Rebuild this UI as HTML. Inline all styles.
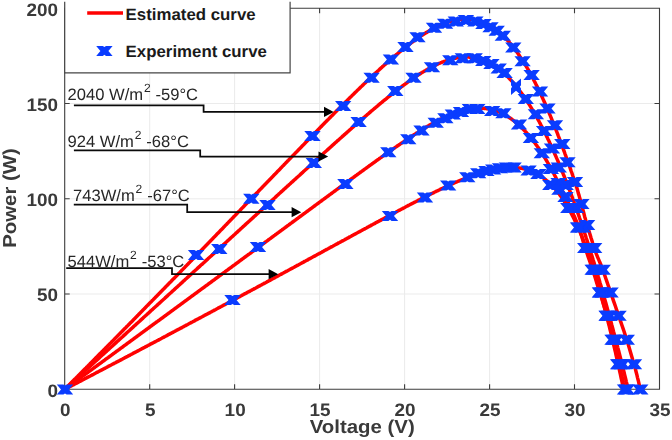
<!DOCTYPE html>
<html><head><meta charset="utf-8"><title>PV curves</title>
<style>html,body{margin:0;padding:0;background:#fff}body{width:672px;height:440px;overflow:hidden}svg{display:block}text{font-family:"Liberation Sans",sans-serif;text-rendering:geometricPrecision}svg{opacity:0.999}.tk{font-weight:bold;font-size:18px;fill:#3a3a3a}.lb{font-weight:bold;font-size:18.8px;fill:#3a3a3a}.lg{font-weight:bold;font-size:16.5px;fill:#1a1a1a}.an{font-size:16.5px;fill:#262626}</style></head><body>
<svg width="672" height="440" viewBox="0 0 672 440">
<path d="M149.7 8.2V389.3M234.6 8.2V389.3M319.6 8.2V389.3M404.6 8.2V389.3M489.6 8.2V389.3M574.5 8.2V389.3M64.7 294.0H659.5M64.7 198.8H659.5M64.7 103.5H659.5" stroke="#ebebeb" stroke-width="1" fill="none"/>
<path d="M64.7 8.2H659.5V389.3H64.7ZM64.7 389.3v-5M64.7 8.2v5M149.7 389.3v-5M149.7 8.2v5M234.6 389.3v-5M234.6 8.2v5M319.6 389.3v-5M319.6 8.2v5M404.6 389.3v-5M404.6 8.2v5M489.6 389.3v-5M489.6 8.2v5M574.5 389.3v-5M574.5 8.2v5M659.5 389.3v-5M659.5 8.2v5M64.7 389.3h5M659.5 389.3h-5M64.7 294.0h5M659.5 294.0h-5M64.7 198.8h5M659.5 198.8h-5M64.7 103.5h5M659.5 103.5h-5M64.7 8.2h5M659.5 8.2h-5" stroke="#3c3c3c" stroke-width="1.1" fill="none"/>
<path d="M64.7 389.3 65.6 388.4 66.4 387.6 67.3 386.7 68.1 385.9 69.0 385.0 69.8 384.2 70.7 383.3 71.5 382.5 72.4 381.6 73.2 380.7 74.1 379.9 74.9 379.0 75.8 378.2 76.6 377.3 77.5 376.5 78.3 375.6 79.2 374.8 80.0 373.9 80.9 373.0 81.7 372.2 82.6 371.3 83.4 370.5 84.3 369.6 85.1 368.8 86.0 367.9 86.8 367.0 87.7 366.2 88.5 365.3 89.4 364.5 90.2 363.6 91.1 362.7 91.9 361.9 92.8 361.0 93.6 360.2 94.5 359.3 95.3 358.4 96.2 357.6 97.0 356.7 97.9 355.9 98.7 355.0 99.6 354.1 100.4 353.3 101.3 352.4 102.1 351.6 103.0 350.7 103.8 349.8 104.7 349.0 105.5 348.1 106.4 347.3 107.2 346.4 108.1 345.5 108.9 344.7 109.8 343.8 110.7 343.0 111.5 342.1 112.4 341.2 113.2 340.4 114.1 339.5 114.9 338.6 115.8 337.8 116.6 336.9 117.5 336.0 118.3 335.2 119.2 334.3 120.0 333.5 120.9 332.6 121.7 331.7 122.6 330.9 123.4 330.0 124.3 329.1 125.1 328.3 126.0 327.4 126.8 326.5 127.7 325.7 128.5 324.8 129.4 323.9 130.2 323.1 131.1 322.2 131.9 321.4 132.8 320.5 133.6 319.6 134.5 318.8 135.3 317.9 136.2 317.0 137.0 316.2 137.9 315.3 138.7 314.4 139.6 313.6 140.4 312.7 141.3 311.8 142.1 311.0 143.0 310.1 143.8 309.2 144.7 308.4 145.5 307.5 146.4 306.6 147.2 305.7 148.1 304.9 148.9 304.0 149.8 303.1 150.6 302.3 151.5 301.4 152.3 300.5 153.2 299.7 154.0 298.8 154.9 297.9 155.7 297.1 156.6 296.2 157.5 295.3 158.3 294.5 159.2 293.6 160.0 292.7 160.9 291.8 161.7 291.0 162.6 290.1 163.4 289.2 164.3 288.4 165.1 287.5 166.0 286.6 166.8 285.7 167.7 284.9 168.5 284.0 169.4 283.1 170.2 282.3 171.1 281.4 171.9 280.5 172.8 279.6 173.6 278.8 174.5 277.9 175.3 277.0 176.2 276.2 177.0 275.3 177.9 274.4 178.7 273.5 179.6 272.7 180.4 271.8 181.3 270.9 182.1 270.0 183.0 269.2 183.8 268.3 184.7 267.4 185.5 266.5 186.4 265.7 187.2 264.8 188.1 263.9 188.9 263.1 189.8 262.2 190.6 261.3 191.5 260.4 192.3 259.6 193.2 258.7 194.0 257.8 194.9 256.9 195.7 256.1 196.6 255.2 197.4 254.3 198.3 253.4 199.1 252.5 200.0 251.7 200.8 250.8 201.7 249.9 202.6 249.0 203.4 248.2 204.3 247.3 205.1 246.4 206.0 245.5 206.8 244.7 207.7 243.8 208.5 242.9 209.4 242.0 210.2 241.2 211.1 240.3 211.9 239.4 212.8 238.5 213.6 237.6 214.5 236.8 215.3 235.9 216.2 235.0 217.0 234.1 217.9 233.2 218.7 232.4 219.6 231.5 220.4 230.6 221.3 229.7 222.1 228.9 223.0 228.0 223.8 227.1 224.7 226.2 225.5 225.3 226.4 224.5 227.2 223.6 228.1 222.7 228.9 221.8 229.8 220.9 230.6 220.1 231.5 219.2 232.3 218.3 233.2 217.4 234.0 216.5 234.9 215.7 235.7 214.8 236.6 213.9 237.4 213.0 238.3 212.1 239.1 211.3 240.0 210.4 240.8 209.5 241.7 208.6 242.5 207.7 243.4 206.9 244.2 206.0 245.1 205.1 245.9 204.2 246.8 203.3 247.6 202.5 248.5 201.6 249.4 200.7 250.2 199.8 251.1 198.9 251.9 198.1 252.8 197.2 253.6 196.3 254.5 195.4 255.3 194.5 256.2 193.6 257.0 192.8 257.9 191.9 258.7 191.0 259.6 190.1 260.4 189.2 261.3 188.4 262.1 187.5 263.0 186.6 263.8 185.7 264.7 184.8 265.5 184.0 266.4 183.1 267.2 182.2 268.1 181.3 268.9 180.4 269.8 179.5 270.6 178.7 271.5 177.8 272.3 176.9 273.2 176.0 274.0 175.1 274.9 174.3 275.7 173.4 276.6 172.5 277.4 171.6 278.3 170.7 279.1 169.9 280.0 169.0 280.8 168.1 281.7 167.2 282.5 166.3 283.4 165.5 284.2 164.6 285.1 163.7 285.9 162.8 286.8 161.9 287.6 161.1 288.5 160.2 289.3 159.3 290.2 158.4 291.0 157.5 291.9 156.7 292.7 155.8 293.6 154.9 294.5 154.0 295.3 153.1 296.2 152.3 297.0 151.4 297.9 150.5 298.7 149.6 299.6 148.8 300.4 147.9 301.3 147.0 302.1 146.1 303.0 145.3 303.8 144.4 304.7 143.5 305.5 142.6 306.4 141.8 307.2 140.9 308.1 140.0 308.9 139.1 309.8 138.3 310.6 137.4 311.5 136.5 312.3 135.6 313.2 134.8 314.0 133.9 314.9 133.0 315.7 132.2 316.6 131.3 317.4 130.4 318.3 129.5 319.1 128.7 320.0 127.8 320.8 126.9 321.7 126.1 322.5 125.2 323.4 124.3 324.2 123.5 325.1 122.6 325.9 121.7 326.8 120.9 327.6 120.0 328.5 119.2 329.3 118.3 330.2 117.4 331.0 116.6 331.9 115.7 332.7 114.9 333.6 114.0 334.4 113.1 335.3 112.3 336.1 111.4 337.0 110.6 337.8 109.7 338.7 108.9 339.6 108.0 340.4 107.2 341.3 106.3 342.1 105.5 343.0 104.6 343.8 103.8 344.7 102.9 345.5 102.1 346.4 101.2 347.2 100.4 348.1 99.5 348.9 98.7 349.8 97.8 350.6 97.0 351.5 96.2 352.3 95.3 353.2 94.5 354.0 93.7 354.9 92.8 355.7 92.0 356.6 91.2 357.4 90.3 358.3 89.5 359.1 88.7 360.0 87.9 360.8 87.0 361.7 86.2 362.5 85.4 363.4 84.6 364.2 83.8 365.1 83.0 365.9 82.1 366.8 81.3 367.6 80.5 368.5 79.7 369.3 78.9 370.2 78.1 371.0 77.3 371.9 76.5 372.7 75.7 373.6 74.9 374.4 74.1 375.3 73.3 376.1 72.5 377.0 71.8 377.8 71.0 378.7 70.2 379.5 69.4 380.4 68.6 381.2 67.9 382.1 67.1 382.9 66.3 383.8 65.6 384.6 64.8 385.5 64.1 386.4 63.3 387.2 62.5 388.1 61.8 388.9 61.1 389.8 60.3 390.6 59.6 391.5 58.8 392.3 58.1 393.2 57.4 394.0 56.6 394.9 55.9 395.7 55.2 396.6 54.5 397.4 53.8 398.3 53.1 399.1 52.4 400.0 51.7 400.8 51.0 401.7 50.3 402.5 49.6 403.4 48.9 404.2 48.2 405.1 47.6 405.9 46.9 406.8 46.2 407.6 45.6 408.5 44.9 409.3 44.3 410.2 43.6 411.0 43.0 411.9 42.4 412.7 41.8 413.6 41.1 414.4 40.5 415.3 39.9 416.1 39.3 417.0 38.7 417.8 38.1 418.7 37.5 419.5 37.0 420.4 36.4 421.2 35.8 422.1 35.3 422.9 34.7 423.8 34.2 424.6 33.6 425.5 33.1 426.3 32.6 427.2 32.1 428.0 31.6 428.9 31.1 429.7 30.6 430.6 30.1 431.5 29.6 432.3 29.1 433.2 28.7 434.0 28.2 434.9 27.8 435.7 27.4 436.6 26.9 437.4 26.5 438.3 26.1 439.1 25.7 440.0 25.3 440.8 25.0 441.7 24.6 442.5 24.2 443.4 23.9 444.2 23.6 445.1 23.2 445.9 22.9 446.8 22.6 447.6 22.3 448.5 22.0 449.3 21.8 450.2 21.5 451.0 21.3 451.9 21.0 452.7 20.8 453.6 20.6 454.4 20.4 455.3 20.2 456.1 20.0 457.0 19.9 457.8 19.7 458.7 19.6 459.5 19.5 460.4 19.4 461.2 19.3 462.1 19.2 462.9 19.2 463.8 19.1 464.6 19.1 465.5 19.0 466.3 19.0 467.2 19.1 468.0 19.1 468.9 19.1 469.7 19.2 470.6 19.3 471.4 19.3 472.3 19.5 473.1 19.6 474.0 19.7 474.8 19.9 475.7 20.0 476.6 20.2 477.4 20.4 478.3 20.7 479.1 20.9 480.0 21.2 480.8 21.4 481.7 21.7 482.5 22.1 483.4 22.4 484.2 22.7 485.1 23.1 485.9 23.5 486.8 23.9 487.6 24.4 488.5 24.8 489.3 25.3 490.2 25.8 491.0 26.3 491.9 26.8 492.7 27.3 493.6 27.9 494.4 28.5 495.3 29.1 496.1 29.8 497.0 30.4 497.8 31.1 498.7 31.8 499.5 32.5 500.4 33.2 501.2 34.0 502.1 34.8 502.9 35.6 503.8 36.4 504.6 37.3 505.5 38.1 506.3 39.0 507.2 39.9 508.0 40.9 508.9 41.8 509.7 42.8 510.6 43.8 511.4 44.8 512.3 45.9 513.1 47.0 514.0 48.1 514.8 49.2 515.7 50.3 516.5 51.5 517.4 52.7 518.2 53.9 519.1 55.1 519.9 56.4 520.8 57.7 521.6 59.0 522.5 60.3 523.4 61.6 524.2 63.0 525.1 64.4 525.9 65.8 526.8 67.2 527.6 68.7 528.5 70.2 529.3 71.7 530.2 73.2 531.0 74.8 531.9 76.4 532.7 78.0 533.6 79.6 534.4 81.2 535.3 82.9 536.1 84.6 537.0 86.3 537.8 88.0 538.7 89.8 539.5 91.5 540.4 93.3 541.2 95.1 542.1 97.0 542.9 98.8 543.8 100.7 544.6 102.6 545.5 104.5 546.3 106.5 547.2 108.4 548.0 110.4 548.9 112.4 549.7 114.4 550.6 116.4 551.4 118.5 552.3 120.6 553.1 122.7 554.0 124.8 554.8 126.9 555.7 129.1 556.5 131.2 557.4 133.4 558.2 135.6 559.1 137.8 559.9 140.1 560.8 142.3 561.6 144.6 562.5 146.9 563.3 149.2 564.2 151.5 565.0 153.8 565.9 156.2 566.7 158.5 567.6 160.9 568.5 163.3 569.3 165.7 570.2 168.1 571.0 170.6 571.9 173.0 572.7 175.5 573.6 178.0 574.4 180.4 575.3 182.9 576.1 185.5 576.9 188.0 577.6 190.5 578.3 193.1 579.1 195.6 579.8 198.2 580.5 200.8 581.2 203.4 581.9 206.0 582.6 208.6 583.3 211.2 584.0 213.8 584.6 216.4 585.4 219.1 586.1 221.7 586.9 224.4 587.7 227.1 588.5 229.7 589.4 232.4 590.2 235.1 591.0 237.8 591.9 240.5 592.7 243.2 593.6 245.9 594.4 248.6 595.4 251.4 596.4 254.1 597.5 256.8 598.7 259.6 599.8 262.3 601.0 265.0 602.0 267.8 603.1 270.5 604.0 273.3 605.0 276.1 605.9 278.8 606.9 281.6 607.8 284.3 608.8 287.1 609.7 289.9 610.7 292.6 611.6 295.4 612.6 298.2 613.5 300.9 614.5 303.7 615.5 306.5 616.4 309.2 617.4 312.0 618.3 314.8 619.3 317.5 620.2 320.3 621.2 323.1 622.1 325.8 623.1 328.6 624.0 331.3 624.9 334.1 625.8 336.8 626.7 339.6 627.6 342.3 628.4 345.1 629.2 347.8 630.0 350.5 630.8 353.3 631.6 356.0 632.4 358.7 633.2 361.4 634.0 364.1 634.7 366.8 635.5 369.5 636.2 372.2 636.9 374.9 637.5 377.6 638.2 380.2 638.8 382.9 639.4 385.6 640.0 388.2 640.3 389.3" stroke="#ff0000" stroke-width="3.5" fill="none" stroke-linejoin="round"/>
<path d="M64.7 389.3 65.6 388.5 66.4 387.8 67.3 387.0 68.1 386.2 69.0 385.4 69.8 384.7 70.7 383.9 71.5 383.1 72.4 382.3 73.2 381.6 74.1 380.8 74.9 380.0 75.8 379.3 76.6 378.5 77.5 377.7 78.3 376.9 79.2 376.2 80.0 375.4 80.9 374.6 81.7 373.8 82.6 373.1 83.4 372.3 84.3 371.5 85.1 370.7 86.0 370.0 86.8 369.2 87.7 368.4 88.5 367.7 89.4 366.9 90.2 366.1 91.1 365.3 91.9 364.6 92.8 363.8 93.6 363.0 94.5 362.2 95.3 361.5 96.2 360.7 97.0 359.9 97.9 359.1 98.7 358.4 99.6 357.6 100.4 356.8 101.3 356.0 102.1 355.3 103.0 354.5 103.8 353.7 104.7 352.9 105.5 352.2 106.4 351.4 107.2 350.6 108.1 349.9 108.9 349.1 109.8 348.3 110.7 347.5 111.5 346.8 112.4 346.0 113.2 345.2 114.1 344.4 114.9 343.7 115.8 342.9 116.6 342.1 117.5 341.3 118.3 340.6 119.2 339.8 120.0 339.0 120.9 338.2 121.7 337.5 122.6 336.7 123.4 335.9 124.3 335.1 125.1 334.4 126.0 333.6 126.8 332.8 127.7 332.0 128.5 331.3 129.4 330.5 130.2 329.7 131.1 328.9 131.9 328.2 132.8 327.4 133.6 326.6 134.5 325.8 135.3 325.1 136.2 324.3 137.0 323.5 137.9 322.7 138.7 322.0 139.6 321.2 140.4 320.4 141.3 319.6 142.1 318.9 143.0 318.1 143.8 317.3 144.7 316.5 145.5 315.8 146.4 315.0 147.2 314.2 148.1 313.4 148.9 312.7 149.8 311.9 150.6 311.1 151.5 310.3 152.3 309.6 153.2 308.8 154.0 308.0 154.9 307.2 155.7 306.5 156.6 305.7 157.5 304.9 158.3 304.1 159.2 303.4 160.0 302.6 160.9 301.8 161.7 301.0 162.6 300.2 163.4 299.5 164.3 298.7 165.1 297.9 166.0 297.1 166.8 296.4 167.7 295.6 168.5 294.8 169.4 294.0 170.2 293.3 171.1 292.5 171.9 291.7 172.8 290.9 173.6 290.2 174.5 289.4 175.3 288.6 176.2 287.8 177.0 287.1 177.9 286.3 178.7 285.5 179.6 284.7 180.4 283.9 181.3 283.2 182.1 282.4 183.0 281.6 183.8 280.8 184.7 280.1 185.5 279.3 186.4 278.5 187.2 277.7 188.1 277.0 188.9 276.2 189.8 275.4 190.6 274.6 191.5 273.9 192.3 273.1 193.2 272.3 194.0 271.5 194.9 270.7 195.7 270.0 196.6 269.2 197.4 268.4 198.3 267.6 199.1 266.9 200.0 266.1 200.8 265.3 201.7 264.5 202.6 263.8 203.4 263.0 204.3 262.2 205.1 261.4 206.0 260.6 206.8 259.9 207.7 259.1 208.5 258.3 209.4 257.5 210.2 256.8 211.1 256.0 211.9 255.2 212.8 254.4 213.6 253.7 214.5 252.9 215.3 252.1 216.2 251.3 217.0 250.5 217.9 249.8 218.7 249.0 219.6 248.2 220.4 247.4 221.3 246.7 222.1 245.9 223.0 245.1 223.8 244.3 224.7 243.5 225.5 242.8 226.4 242.0 227.2 241.2 228.1 240.4 228.9 239.7 229.8 238.9 230.6 238.1 231.5 237.3 232.3 236.6 233.2 235.8 234.0 235.0 234.9 234.2 235.7 233.4 236.6 232.7 237.4 231.9 238.3 231.1 239.1 230.3 240.0 229.6 240.8 228.8 241.7 228.0 242.5 227.2 243.4 226.4 244.2 225.7 245.1 224.9 245.9 224.1 246.8 223.3 247.6 222.6 248.5 221.8 249.4 221.0 250.2 220.2 251.1 219.4 251.9 218.7 252.8 217.9 253.6 217.1 254.5 216.3 255.3 215.6 256.2 214.8 257.0 214.0 257.9 213.2 258.7 212.4 259.6 211.7 260.4 210.9 261.3 210.1 262.1 209.3 263.0 208.6 263.8 207.8 264.7 207.0 265.5 206.2 266.4 205.5 267.2 204.7 268.1 203.9 268.9 203.1 269.8 202.3 270.6 201.6 271.5 200.8 272.3 200.0 273.2 199.2 274.0 198.5 274.9 197.7 275.7 196.9 276.6 196.1 277.4 195.3 278.3 194.6 279.1 193.8 280.0 193.0 280.8 192.2 281.7 191.5 282.5 190.7 283.4 189.9 284.2 189.1 285.1 188.4 285.9 187.6 286.8 186.8 287.6 186.0 288.5 185.3 289.3 184.5 290.2 183.7 291.0 182.9 291.9 182.2 292.7 181.4 293.6 180.6 294.5 179.8 295.3 179.1 296.2 178.3 297.0 177.5 297.9 176.7 298.7 176.0 299.6 175.2 300.4 174.4 301.3 173.6 302.1 172.9 303.0 172.1 303.8 171.3 304.7 170.5 305.5 169.8 306.4 169.0 307.2 168.2 308.1 167.4 308.9 166.7 309.8 165.9 310.6 165.1 311.5 164.3 312.3 163.6 313.2 162.8 314.0 162.0 314.9 161.3 315.7 160.5 316.6 159.7 317.4 158.9 318.3 158.2 319.1 157.4 320.0 156.6 320.8 155.9 321.7 155.1 322.5 154.3 323.4 153.6 324.2 152.8 325.1 152.0 325.9 151.3 326.8 150.5 327.6 149.7 328.5 149.0 329.3 148.2 330.2 147.4 331.0 146.7 331.9 145.9 332.7 145.1 333.6 144.4 334.4 143.6 335.3 142.8 336.1 142.1 337.0 141.3 337.8 140.5 338.7 139.8 339.6 139.0 340.4 138.3 341.3 137.5 342.1 136.7 343.0 136.0 343.8 135.2 344.7 134.5 345.5 133.7 346.4 133.0 347.2 132.2 348.1 131.4 348.9 130.7 349.8 129.9 350.6 129.2 351.5 128.4 352.3 127.7 353.2 126.9 354.0 126.2 354.9 125.4 355.7 124.7 356.6 123.9 357.4 123.2 358.3 122.5 359.1 121.7 360.0 121.0 360.8 120.2 361.7 119.5 362.5 118.7 363.4 118.0 364.2 117.3 365.1 116.5 365.9 115.8 366.8 115.1 367.6 114.3 368.5 113.6 369.3 112.9 370.2 112.1 371.0 111.4 371.9 110.7 372.7 110.0 373.6 109.2 374.4 108.5 375.3 107.8 376.1 107.1 377.0 106.4 377.8 105.7 378.7 104.9 379.5 104.2 380.4 103.5 381.2 102.8 382.1 102.1 382.9 101.4 383.8 100.7 384.6 100.0 385.5 99.3 386.4 98.6 387.2 97.9 388.1 97.2 388.9 96.6 389.8 95.9 390.6 95.2 391.5 94.5 392.3 93.8 393.2 93.2 394.0 92.5 394.9 91.8 395.7 91.2 396.6 90.5 397.4 89.8 398.3 89.2 399.1 88.5 400.0 87.9 400.8 87.2 401.7 86.6 402.5 86.0 403.4 85.3 404.2 84.7 405.1 84.1 405.9 83.5 406.8 82.8 407.6 82.2 408.5 81.6 409.3 81.0 410.2 80.4 411.0 79.8 411.9 79.2 412.7 78.6 413.6 78.0 414.4 77.5 415.3 76.9 416.1 76.3 417.0 75.8 417.8 75.2 418.7 74.7 419.5 74.1 420.4 73.6 421.2 73.0 422.1 72.5 422.9 72.0 423.8 71.5 424.6 71.0 425.5 70.5 426.3 70.0 427.2 69.5 428.0 69.0 428.9 68.5 429.7 68.1 430.6 67.6 431.5 67.1 432.3 66.7 433.2 66.3 434.0 65.8 434.9 65.4 435.7 65.0 436.6 64.6 437.4 64.2 438.3 63.8 439.1 63.4 440.0 63.1 440.8 62.7 441.7 62.4 442.5 62.0 443.4 61.7 444.2 61.4 445.1 61.1 445.9 60.8 446.8 60.5 447.6 60.2 448.5 59.9 449.3 59.7 450.2 59.4 451.0 59.2 451.9 58.9 452.7 58.7 453.6 58.5 454.4 58.3 455.3 58.2 456.1 58.0 457.0 57.8 457.8 57.7 458.7 57.6 459.5 57.5 460.4 57.4 461.2 57.3 462.1 57.2 462.9 57.1 463.8 57.1 464.6 57.1 465.5 57.0 466.3 57.0 467.2 57.0 468.0 57.1 468.9 57.1 469.7 57.2 470.6 57.2 471.4 57.3 472.3 57.4 473.1 57.5 474.0 57.7 474.8 57.8 475.7 58.0 476.6 58.1 477.4 58.3 478.3 58.6 479.1 58.8 480.0 59.0 480.8 59.3 481.7 59.6 482.5 59.9 483.4 60.2 484.2 60.5 485.1 60.8 485.9 61.2 486.8 61.6 487.6 62.0 488.5 62.4 489.3 62.8 490.2 63.3 491.0 63.8 491.9 64.3 492.7 64.8 493.6 65.3 494.4 65.8 495.3 66.4 496.1 67.0 497.0 67.6 497.8 68.2 498.7 68.8 499.5 69.5 500.4 70.2 501.2 70.9 502.1 71.6 502.9 72.3 503.8 73.1 504.6 73.9 505.5 74.6 506.3 75.5 507.2 76.3 508.0 77.1 508.9 78.0 509.7 78.9 510.6 79.8 511.4 80.7 512.3 81.7 513.1 82.6 514.0 83.6 514.8 84.6 515.7 85.7 516.5 86.7 517.4 87.8 518.2 88.9 519.1 90.0 519.9 91.1 520.8 92.2 521.6 93.4 522.5 94.6 523.4 95.8 524.2 97.0 525.1 98.2 525.9 99.5 526.8 100.8 527.6 102.1 528.5 103.4 529.3 104.7 530.2 106.1 531.0 107.5 531.9 108.9 532.7 110.3 533.6 111.7 534.4 113.2 535.3 114.7 536.1 116.2 537.0 117.7 537.8 119.2 538.7 120.8 539.5 122.3 540.4 123.9 541.2 125.6 542.1 127.2 542.9 128.8 543.8 130.5 544.6 132.2 545.5 133.9 546.3 135.6 547.2 137.4 548.0 139.2 548.9 140.9 549.7 142.7 550.6 144.6 551.4 146.4 552.3 148.3 553.1 150.2 554.0 152.1 554.8 154.0 555.7 155.9 556.5 157.9 557.4 159.9 558.2 161.8 559.1 163.9 559.9 165.9 560.8 167.9 561.6 170.0 562.5 172.1 563.3 174.2 564.2 176.3 565.0 178.5 565.9 180.7 566.7 182.8 567.6 185.0 568.5 187.3 569.3 189.5 570.2 191.8 571.0 194.0 571.9 196.3 572.7 198.6 573.6 201.0 574.4 203.3 575.3 205.7 576.1 208.1 577.0 210.5 577.8 212.9 578.7 215.4 579.5 217.8 580.4 220.3 581.2 222.8 582.1 225.3 582.9 227.8 583.8 230.4 584.6 233.0 585.5 235.6 586.3 238.2 587.2 240.8 588.0 243.4 588.9 246.1 589.7 248.8 590.6 251.5 591.4 254.2 592.3 257.0 593.1 259.7 594.0 262.5 594.8 265.3 595.7 268.1 596.5 270.9 597.4 273.8 598.2 276.6 599.1 279.5 599.9 282.4 600.8 285.3 601.6 288.3 602.5 291.2 603.3 294.2 604.2 297.2 605.0 300.2 605.9 303.3 606.7 306.3 607.6 309.4 608.4 312.5 609.3 315.6 610.1 318.7 611.0 321.8 611.8 325.0 612.7 328.2 613.5 331.4 614.4 334.6 615.3 337.8 616.1 341.1 617.0 344.3 617.8 347.6 618.7 350.9 619.5 354.3 620.4 357.6 621.2 361.0 622.1 364.4 622.9 367.8 623.8 371.2 624.6 374.6 625.5 378.1 626.3 381.6 627.2 385.0 628.0 388.6 628.2 389.3" stroke="#ff0000" stroke-width="3.5" fill="none" stroke-linejoin="round"/>
<path d="M64.7 389.3 65.6 388.7 66.4 388.1 67.3 387.4 68.1 386.8 69.0 386.2 69.8 385.6 70.7 384.9 71.5 384.3 72.4 383.7 73.2 383.1 74.1 382.5 74.9 381.8 75.8 381.2 76.6 380.6 77.5 380.0 78.3 379.4 79.2 378.7 80.0 378.1 80.9 377.5 81.7 376.9 82.6 376.2 83.4 375.6 84.3 375.0 85.1 374.4 86.0 373.8 86.8 373.1 87.7 372.5 88.5 371.9 89.4 371.3 90.2 370.6 91.1 370.0 91.9 369.4 92.8 368.8 93.6 368.2 94.5 367.5 95.3 366.9 96.2 366.3 97.0 365.7 97.9 365.0 98.7 364.4 99.6 363.8 100.4 363.2 101.3 362.6 102.1 361.9 103.0 361.3 103.8 360.7 104.7 360.1 105.5 359.4 106.4 358.8 107.2 358.2 108.1 357.6 108.9 357.0 109.8 356.3 110.7 355.7 111.5 355.1 112.4 354.5 113.2 353.8 114.1 353.2 114.9 352.6 115.8 352.0 116.6 351.3 117.5 350.7 118.3 350.1 119.2 349.5 120.0 348.9 120.9 348.2 121.7 347.6 122.6 347.0 123.4 346.4 124.3 345.7 125.1 345.1 126.0 344.5 126.8 343.9 127.7 343.2 128.5 342.6 129.4 342.0 130.2 341.4 131.1 340.8 131.9 340.1 132.8 339.5 133.6 338.9 134.5 338.3 135.3 337.6 136.2 337.0 137.0 336.4 137.9 335.8 138.7 335.1 139.6 334.5 140.4 333.9 141.3 333.3 142.1 332.6 143.0 332.0 143.8 331.4 144.7 330.8 145.5 330.2 146.4 329.5 147.2 328.9 148.1 328.3 148.9 327.7 149.8 327.0 150.6 326.4 151.5 325.8 152.3 325.2 153.2 324.5 154.0 323.9 154.9 323.3 155.7 322.7 156.6 322.0 157.5 321.4 158.3 320.8 159.2 320.2 160.0 319.6 160.9 318.9 161.7 318.3 162.6 317.7 163.4 317.1 164.3 316.4 165.1 315.8 166.0 315.2 166.8 314.6 167.7 313.9 168.5 313.3 169.4 312.7 170.2 312.1 171.1 311.4 171.9 310.8 172.8 310.2 173.6 309.6 174.5 308.9 175.3 308.3 176.2 307.7 177.0 307.1 177.9 306.4 178.7 305.8 179.6 305.2 180.4 304.6 181.3 303.9 182.1 303.3 183.0 302.7 183.8 302.1 184.7 301.4 185.5 300.8 186.4 300.2 187.2 299.6 188.1 298.9 188.9 298.3 189.8 297.7 190.6 297.1 191.5 296.4 192.3 295.8 193.2 295.2 194.0 294.6 194.9 293.9 195.7 293.3 196.6 292.7 197.4 292.1 198.3 291.4 199.1 290.8 200.0 290.2 200.8 289.6 201.7 288.9 202.6 288.3 203.4 287.7 204.3 287.1 205.1 286.4 206.0 285.8 206.8 285.2 207.7 284.6 208.5 283.9 209.4 283.3 210.2 282.7 211.1 282.1 211.9 281.4 212.8 280.8 213.6 280.2 214.5 279.6 215.3 278.9 216.2 278.3 217.0 277.7 217.9 277.1 218.7 276.4 219.6 275.8 220.4 275.2 221.3 274.6 222.1 273.9 223.0 273.3 223.8 272.7 224.7 272.1 225.5 271.4 226.4 270.8 227.2 270.2 228.1 269.6 228.9 268.9 229.8 268.3 230.6 267.7 231.5 267.1 232.3 266.4 233.2 265.8 234.0 265.2 234.9 264.6 235.7 263.9 236.6 263.3 237.4 262.7 238.3 262.1 239.1 261.4 240.0 260.8 240.8 260.2 241.7 259.5 242.5 258.9 243.4 258.3 244.2 257.7 245.1 257.0 245.9 256.4 246.8 255.8 247.6 255.2 248.5 254.5 249.4 253.9 250.2 253.3 251.1 252.7 251.9 252.0 252.8 251.4 253.6 250.8 254.5 250.2 255.3 249.5 256.2 248.9 257.0 248.3 257.9 247.7 258.7 247.0 259.6 246.4 260.4 245.8 261.3 245.1 262.1 244.5 263.0 243.9 263.8 243.3 264.7 242.6 265.5 242.0 266.4 241.4 267.2 240.8 268.1 240.1 268.9 239.5 269.8 238.9 270.6 238.3 271.5 237.6 272.3 237.0 273.2 236.4 274.0 235.7 274.9 235.1 275.7 234.5 276.6 233.9 277.4 233.2 278.3 232.6 279.1 232.0 280.0 231.4 280.8 230.7 281.7 230.1 282.5 229.5 283.4 228.9 284.2 228.2 285.1 227.6 285.9 227.0 286.8 226.3 287.6 225.7 288.5 225.1 289.3 224.5 290.2 223.8 291.0 223.2 291.9 222.6 292.7 222.0 293.6 221.3 294.5 220.7 295.3 220.1 296.2 219.5 297.0 218.8 297.9 218.2 298.7 217.6 299.6 216.9 300.4 216.3 301.3 215.7 302.1 215.1 303.0 214.4 303.8 213.8 304.7 213.2 305.5 212.6 306.4 211.9 307.2 211.3 308.1 210.7 308.9 210.1 309.8 209.4 310.6 208.8 311.5 208.2 312.3 207.6 313.2 206.9 314.0 206.3 314.9 205.7 315.7 205.0 316.6 204.4 317.4 203.8 318.3 203.2 319.1 202.5 320.0 201.9 320.8 201.3 321.7 200.7 322.5 200.0 323.4 199.4 324.2 198.8 325.1 198.2 325.9 197.5 326.8 196.9 327.6 196.3 328.5 195.7 329.3 195.0 330.2 194.4 331.0 193.8 331.9 193.2 332.7 192.5 333.6 191.9 334.4 191.3 335.3 190.7 336.1 190.0 337.0 189.4 337.8 188.8 338.7 188.2 339.6 187.5 340.4 186.9 341.3 186.3 342.1 185.7 343.0 185.1 343.8 184.4 344.7 183.8 345.5 183.2 346.4 182.6 347.2 181.9 348.1 181.3 348.9 180.7 349.8 180.1 350.6 179.4 351.5 178.8 352.3 178.2 353.2 177.6 354.0 177.0 354.9 176.3 355.7 175.7 356.6 175.1 357.4 174.5 358.3 173.9 359.1 173.2 360.0 172.6 360.8 172.0 361.7 171.4 362.5 170.8 363.4 170.2 364.2 169.5 365.1 168.9 365.9 168.3 366.8 167.7 367.6 167.1 368.5 166.5 369.3 165.8 370.2 165.2 371.0 164.6 371.9 164.0 372.7 163.4 373.6 162.8 374.4 162.2 375.3 161.6 376.1 160.9 377.0 160.3 377.8 159.7 378.7 159.1 379.5 158.5 380.4 157.9 381.2 157.3 382.1 156.7 382.9 156.1 383.8 155.5 384.6 154.9 385.5 154.3 386.4 153.7 387.2 153.1 388.1 152.5 388.9 151.9 389.8 151.3 390.6 150.7 391.5 150.1 392.3 149.5 393.2 148.9 394.0 148.3 394.9 147.7 395.7 147.1 396.6 146.5 397.4 145.9 398.3 145.4 399.1 144.8 400.0 144.2 400.8 143.6 401.7 143.0 402.5 142.5 403.4 141.9 404.2 141.3 405.1 140.7 405.9 140.2 406.8 139.6 407.6 139.0 408.5 138.4 409.3 137.9 410.2 137.3 411.0 136.8 411.9 136.2 412.7 135.6 413.6 135.1 414.4 134.5 415.3 134.0 416.1 133.4 417.0 132.9 417.8 132.4 418.7 131.8 419.5 131.3 420.4 130.8 421.2 130.2 422.1 129.7 422.9 129.2 423.8 128.7 424.6 128.1 425.5 127.6 426.3 127.1 427.2 126.6 428.0 126.1 428.9 125.6 429.7 125.1 430.6 124.6 431.5 124.2 432.3 123.7 433.2 123.2 434.0 122.7 434.9 122.3 435.7 121.8 436.6 121.3 437.4 120.9 438.3 120.4 439.1 120.0 440.0 119.6 440.8 119.1 441.7 118.7 442.5 118.3 443.4 117.9 444.2 117.5 445.1 117.1 445.9 116.7 446.8 116.3 447.6 115.9 448.5 115.5 449.3 115.2 450.2 114.8 451.0 114.5 451.9 114.1 452.7 113.8 453.6 113.4 454.4 113.1 455.3 112.8 456.1 112.5 457.0 112.2 457.8 111.9 458.7 111.7 459.5 111.4 460.4 111.1 461.2 110.9 462.1 110.6 462.9 110.4 463.8 110.2 464.6 110.0 465.5 109.8 466.3 109.6 467.2 109.4 468.0 109.2 468.9 109.1 469.7 108.9 470.6 108.8 471.4 108.7 472.3 108.6 473.1 108.5 474.0 108.4 474.8 108.3 475.7 108.3 476.6 108.2 477.4 108.2 478.3 108.2 479.1 108.2 480.0 108.2 480.8 108.2 481.7 108.2 482.5 108.2 483.4 108.3 484.2 108.4 485.1 108.5 485.9 108.6 486.8 108.7 487.6 108.8 488.5 109.0 489.3 109.1 490.2 109.3 491.0 109.5 491.9 109.7 492.7 109.9 493.6 110.2 494.4 110.4 495.3 110.7 496.1 111.0 497.0 111.3 497.8 111.6 498.7 111.9 499.5 112.3 500.4 112.7 501.2 113.0 502.1 113.4 502.9 113.9 503.8 114.3 504.6 114.8 505.5 115.2 506.3 115.7 507.2 116.2 508.0 116.8 508.9 117.3 509.7 117.9 510.6 118.4 511.4 119.0 512.3 119.7 513.1 120.3 514.0 120.9 514.8 121.6 515.7 122.3 516.5 123.0 517.4 123.7 518.2 124.5 519.1 125.3 519.9 126.0 520.8 126.8 521.6 127.7 522.5 128.5 523.4 129.4 524.2 130.3 525.1 131.2 525.9 132.1 526.8 133.0 527.6 134.0 528.5 135.0 529.3 136.0 530.2 137.0 531.0 138.0 531.9 139.1 532.7 140.2 533.6 141.3 534.4 142.4 535.3 143.5 536.1 144.7 537.0 145.9 537.8 147.1 538.7 148.3 539.5 149.5 540.4 150.8 541.2 152.1 542.1 153.4 542.9 154.7 543.8 156.1 544.6 157.5 545.5 158.9 546.3 160.3 547.2 161.7 548.0 163.2 548.9 164.6 549.7 166.1 550.6 167.7 551.4 169.2 552.3 170.8 553.1 172.4 554.0 174.0 554.8 175.6 555.7 177.2 556.5 178.9 557.4 180.6 558.2 182.3 559.1 184.1 559.9 185.8 560.8 187.6 561.6 189.4 562.6 191.3 563.5 193.1 564.5 195.0 565.4 196.9 566.3 198.8 567.3 200.7 568.2 202.7 569.1 204.7 570.1 206.7 571.0 208.7 571.9 210.8 572.8 212.9 573.7 215.0 574.7 217.1 575.6 219.3 576.5 221.4 577.4 223.6 578.3 225.9 579.1 228.1 579.9 230.4 580.6 232.7 581.3 235.0 582.0 237.3 582.7 239.7 583.3 242.1 584.1 244.5 584.8 246.9 585.7 249.4 586.5 251.9 587.4 254.4 588.2 256.9 589.1 259.4 590.0 262.0 590.9 264.6 591.7 267.3 592.6 269.9 593.5 272.6 594.4 275.3 595.3 278.0 596.1 280.8 597.0 283.6 597.9 286.4 598.8 289.2 599.7 292.0 600.6 294.9 601.5 297.8 602.4 300.7 603.3 303.7 604.2 306.7 605.1 309.7 606.0 312.7 606.9 315.8 607.8 318.9 608.7 322.0 609.6 325.1 610.5 328.3 611.5 331.4 612.4 334.6 613.2 337.9 614.1 341.1 614.9 344.4 615.6 347.7 616.3 351.1 617.0 354.5 617.7 357.9 618.5 361.3 619.3 364.7 620.1 368.2 620.9 371.7 621.7 375.2 622.6 378.8 623.4 382.4 624.3 386.0 625.0 389.3" stroke="#ff0000" stroke-width="3.5" fill="none" stroke-linejoin="round"/>
<path d="M64.7 389.3 65.6 388.9 66.4 388.4 67.3 388.0 68.1 387.5 69.0 387.1 69.8 386.6 70.7 386.2 71.5 385.7 72.4 385.3 73.2 384.9 74.1 384.4 74.9 384.0 75.8 383.5 76.6 383.1 77.5 382.6 78.3 382.2 79.2 381.7 80.0 381.3 80.9 380.9 81.7 380.4 82.6 380.0 83.4 379.5 84.3 379.1 85.1 378.6 86.0 378.2 86.8 377.7 87.7 377.3 88.5 376.8 89.4 376.4 90.2 376.0 91.1 375.5 91.9 375.1 92.8 374.6 93.6 374.2 94.5 373.7 95.3 373.3 96.2 372.8 97.0 372.4 97.9 371.9 98.7 371.5 99.6 371.0 100.4 370.6 101.3 370.2 102.1 369.7 103.0 369.3 103.8 368.8 104.7 368.4 105.5 367.9 106.4 367.5 107.2 367.0 108.1 366.6 108.9 366.1 109.8 365.7 110.7 365.2 111.5 364.8 112.4 364.3 113.2 363.9 114.1 363.4 114.9 363.0 115.8 362.6 116.6 362.1 117.5 361.7 118.3 361.2 119.2 360.8 120.0 360.3 120.9 359.9 121.7 359.4 122.6 359.0 123.4 358.5 124.3 358.1 125.1 357.6 126.0 357.2 126.8 356.7 127.7 356.3 128.5 355.8 129.4 355.4 130.2 354.9 131.1 354.5 131.9 354.0 132.8 353.6 133.6 353.1 134.5 352.7 135.3 352.2 136.2 351.8 137.0 351.3 137.9 350.9 138.7 350.4 139.6 350.0 140.4 349.5 141.3 349.1 142.1 348.6 143.0 348.2 143.8 347.7 144.7 347.3 145.5 346.8 146.4 346.4 147.2 345.9 148.1 345.5 148.9 345.0 149.8 344.6 150.6 344.1 151.5 343.7 152.3 343.2 153.2 342.8 154.0 342.3 154.9 341.9 155.7 341.4 156.6 341.0 157.5 340.5 158.3 340.1 159.2 339.6 160.0 339.2 160.9 338.7 161.7 338.3 162.6 337.8 163.4 337.4 164.3 336.9 165.1 336.5 166.0 336.0 166.8 335.6 167.7 335.1 168.5 334.6 169.4 334.2 170.2 333.7 171.1 333.3 171.9 332.8 172.8 332.4 173.6 331.9 174.5 331.5 175.3 331.0 176.2 330.6 177.0 330.1 177.9 329.7 178.7 329.2 179.6 328.8 180.4 328.3 181.3 327.9 182.1 327.4 183.0 327.0 183.8 326.5 184.7 326.0 185.5 325.6 186.4 325.1 187.2 324.7 188.1 324.2 188.9 323.8 189.8 323.3 190.6 322.9 191.5 322.4 192.3 322.0 193.2 321.5 194.0 321.1 194.9 320.6 195.7 320.1 196.6 319.7 197.4 319.2 198.3 318.8 199.1 318.3 200.0 317.9 200.8 317.4 201.7 317.0 202.6 316.5 203.4 316.0 204.3 315.6 205.1 315.1 206.0 314.7 206.8 314.2 207.7 313.8 208.5 313.3 209.4 312.9 210.2 312.4 211.1 312.0 211.9 311.5 212.8 311.0 213.6 310.6 214.5 310.1 215.3 309.7 216.2 309.2 217.0 308.8 217.9 308.3 218.7 307.8 219.6 307.4 220.4 306.9 221.3 306.5 222.1 306.0 223.0 305.6 223.8 305.1 224.7 304.7 225.5 304.2 226.4 303.7 227.2 303.3 228.1 302.8 228.9 302.4 229.8 301.9 230.6 301.5 231.5 301.0 232.3 300.5 233.2 300.1 234.0 299.6 234.9 299.2 235.7 298.7 236.6 298.3 237.4 297.8 238.3 297.3 239.1 296.9 240.0 296.4 240.8 296.0 241.7 295.5 242.5 295.0 243.4 294.6 244.2 294.1 245.1 293.7 245.9 293.2 246.8 292.8 247.6 292.3 248.5 291.8 249.4 291.4 250.2 290.9 251.1 290.5 251.9 290.0 252.8 289.5 253.6 289.1 254.5 288.6 255.3 288.2 256.2 287.7 257.0 287.2 257.9 286.8 258.7 286.3 259.6 285.9 260.4 285.4 261.3 285.0 262.1 284.5 263.0 284.0 263.8 283.6 264.7 283.1 265.5 282.7 266.4 282.2 267.2 281.7 268.1 281.3 268.9 280.8 269.8 280.4 270.6 279.9 271.5 279.4 272.3 279.0 273.2 278.5 274.0 278.1 274.9 277.6 275.7 277.1 276.6 276.7 277.4 276.2 278.3 275.8 279.1 275.3 280.0 274.8 280.8 274.4 281.7 273.9 282.5 273.4 283.4 273.0 284.2 272.5 285.1 272.1 285.9 271.6 286.8 271.1 287.6 270.7 288.5 270.2 289.3 269.8 290.2 269.3 291.0 268.8 291.9 268.4 292.7 267.9 293.6 267.5 294.5 267.0 295.3 266.5 296.2 266.1 297.0 265.6 297.9 265.1 298.7 264.7 299.6 264.2 300.4 263.8 301.3 263.3 302.1 262.8 303.0 262.4 303.8 261.9 304.7 261.4 305.5 261.0 306.4 260.5 307.2 260.1 308.1 259.6 308.9 259.1 309.8 258.7 310.6 258.2 311.5 257.7 312.3 257.3 313.2 256.8 314.0 256.4 314.9 255.9 315.7 255.4 316.6 255.0 317.4 254.5 318.3 254.0 319.1 253.6 320.0 253.1 320.8 252.7 321.7 252.2 322.5 251.7 323.4 251.3 324.2 250.8 325.1 250.3 325.9 249.9 326.8 249.4 327.6 249.0 328.5 248.5 329.3 248.0 330.2 247.6 331.0 247.1 331.9 246.6 332.7 246.2 333.6 245.7 334.4 245.3 335.3 244.8 336.1 244.3 337.0 243.9 337.8 243.4 338.7 242.9 339.6 242.5 340.4 242.0 341.3 241.6 342.1 241.1 343.0 240.6 343.8 240.2 344.7 239.7 345.5 239.2 346.4 238.8 347.2 238.3 348.1 237.9 348.9 237.4 349.8 236.9 350.6 236.5 351.5 236.0 352.3 235.5 353.2 235.1 354.0 234.6 354.9 234.2 355.7 233.7 356.6 233.2 357.4 232.8 358.3 232.3 359.1 231.9 360.0 231.4 360.8 230.9 361.7 230.5 362.5 230.0 363.4 229.5 364.2 229.1 365.1 228.6 365.9 228.2 366.8 227.7 367.6 227.2 368.5 226.8 369.3 226.3 370.2 225.9 371.0 225.4 371.9 224.9 372.7 224.5 373.6 224.0 374.4 223.6 375.3 223.1 376.1 222.6 377.0 222.2 377.8 221.7 378.7 221.3 379.5 220.8 380.4 220.4 381.2 219.9 382.1 219.4 382.9 219.0 383.8 218.5 384.6 218.1 385.5 217.6 386.4 217.2 387.2 216.7 388.1 216.2 388.9 215.8 389.8 215.3 390.6 214.9 391.5 214.4 392.3 214.0 393.2 213.5 394.0 213.1 394.9 212.6 395.7 212.2 396.6 211.7 397.4 211.3 398.3 210.8 399.1 210.4 400.0 209.9 400.8 209.5 401.7 209.0 402.5 208.6 403.4 208.1 404.2 207.7 405.1 207.2 405.9 206.8 406.8 206.3 407.6 205.9 408.5 205.4 409.3 205.0 410.2 204.5 411.0 204.1 411.9 203.7 412.7 203.2 413.6 202.8 414.4 202.3 415.3 201.9 416.1 201.5 417.0 201.0 417.8 200.6 418.7 200.1 419.5 199.7 420.4 199.3 421.2 198.8 422.1 198.4 422.9 198.0 423.8 197.5 424.6 197.1 425.5 196.7 426.3 196.2 427.2 195.8 428.0 195.4 428.9 195.0 429.7 194.5 430.6 194.1 431.5 193.7 432.3 193.3 433.2 192.9 434.0 192.4 434.9 192.0 435.7 191.6 436.6 191.2 437.4 190.8 438.3 190.4 439.1 190.0 440.0 189.6 440.8 189.1 441.7 188.7 442.5 188.3 443.4 187.9 444.2 187.5 445.1 187.1 445.9 186.7 446.8 186.3 447.6 186.0 448.5 185.6 449.3 185.2 450.2 184.8 451.0 184.4 451.9 184.0 452.7 183.6 453.6 183.3 454.4 182.9 455.3 182.5 456.1 182.1 457.0 181.8 457.8 181.4 458.7 181.0 459.5 180.7 460.4 180.3 461.2 180.0 462.1 179.6 462.9 179.3 463.8 178.9 464.6 178.6 465.5 178.2 466.3 177.9 467.2 177.6 468.0 177.2 468.9 176.9 469.7 176.6 470.6 176.3 471.4 175.9 472.3 175.6 473.1 175.3 474.0 175.0 474.8 174.7 475.7 174.4 476.6 174.1 477.4 173.8 478.3 173.6 479.1 173.3 480.0 173.0 480.8 172.7 481.7 172.5 482.5 172.2 483.4 172.0 484.2 171.7 485.1 171.5 485.9 171.2 486.8 171.0 487.6 170.8 488.5 170.6 489.3 170.3 490.2 170.1 491.0 169.9 491.9 169.7 492.7 169.5 493.6 169.4 494.4 169.2 495.3 169.0 496.1 168.9 497.0 168.7 497.8 168.6 498.7 168.4 499.5 168.3 500.4 168.2 501.2 168.1 502.1 168.0 502.9 167.9 503.8 167.8 504.6 167.7 505.5 167.6 506.3 167.6 507.2 167.5 508.0 167.5 508.9 167.5 509.7 167.4 510.6 167.4 511.4 167.4 512.3 167.4 513.1 167.5 514.0 167.5 514.8 167.6 515.7 167.6 516.5 167.7 517.4 167.8 518.2 167.9 519.1 168.0 519.9 168.1 520.8 168.2 521.6 168.4 522.5 168.6 523.4 168.7 524.2 168.9 525.1 169.1 525.9 169.4 526.8 169.6 527.6 169.9 528.5 170.1 529.3 170.4 530.2 170.7 531.0 171.1 531.9 171.4 532.7 171.8 533.6 172.1 534.4 172.5 535.3 173.0 536.1 173.4 537.0 173.9 537.8 174.3 538.7 174.8 539.5 175.3 540.4 175.9 541.2 176.4 542.1 177.0 542.9 177.6 543.8 178.3 544.6 178.9 545.5 179.6 546.3 180.3 547.2 181.0 548.0 181.7 548.9 182.5 549.7 183.3 550.6 184.1 551.4 185.0 552.3 185.9 553.1 186.8 554.0 187.7 554.8 188.7 555.7 189.7 556.5 190.7 557.4 191.7 558.2 192.8 559.1 193.9 559.9 195.1 560.8 196.2 561.6 197.5 562.5 198.7 563.3 200.0 564.2 201.3 565.0 202.6 565.9 204.0 566.7 205.4 567.6 206.8 568.5 208.3 569.3 209.8 570.2 211.4 571.0 212.9 571.9 214.6 572.7 216.2 573.6 217.9 574.4 219.6 575.3 221.4 576.1 223.2 577.0 225.1 577.8 227.0 578.7 228.9 579.5 230.9 580.4 232.9 581.2 234.9 582.1 237.0 582.9 239.2 583.8 241.3 584.6 243.6 585.5 245.8 586.3 248.1 587.2 250.5 588.0 252.8 588.9 255.3 589.7 257.7 590.6 260.3 591.4 262.8 592.3 265.4 593.1 268.1 594.0 270.8 594.8 273.5 595.7 276.3 596.5 279.1 597.4 281.9 598.2 284.8 599.1 287.8 599.9 290.8 600.8 293.8 601.6 296.9 602.5 300.0 603.3 303.2 604.2 306.4 605.0 309.6 605.9 312.9 606.7 316.2 607.6 319.6 608.4 323.0 609.3 326.4 610.1 329.9 611.0 333.4 611.8 337.0 612.7 340.5 613.5 344.2 614.4 347.8 615.3 351.5 616.1 355.3 617.0 359.0 617.8 362.8 618.7 366.6 619.5 370.5 620.4 374.4 621.2 378.3 622.1 382.2 622.9 386.2 623.6 389.3" stroke="#ff0000" stroke-width="3.5" fill="none" stroke-linejoin="round"/>
<g fill="#0a3cff">
<polygon points="187.9,249.9 194.5,249.9 196.1,251.0 197.7,249.9 204.3,249.9 200.1,254.9 204.3,259.9 197.7,259.9 196.1,258.8 194.5,259.9 187.9,259.9 192.1,254.9"/>
<polygon points="243.1,193.7 249.7,193.7 251.3,194.8 252.9,193.7 259.5,193.7 255.3,198.7 259.5,203.7 252.9,203.7 251.3,202.6 249.7,203.7 243.1,203.7 247.3,198.7"/>
<polygon points="304.3,131.0 310.9,131.0 312.5,132.1 314.1,131.0 320.7,131.0 316.5,136.0 320.7,141.0 314.1,141.0 312.5,139.9 310.9,141.0 304.3,141.0 308.5,136.0"/>
<polygon points="335.0,100.9 341.6,100.9 343.2,102.0 344.8,100.9 351.4,100.9 347.2,105.9 351.4,110.9 344.8,110.9 343.2,109.8 341.6,110.9 335.0,110.9 339.2,105.9"/>
<polygon points="363.4,72.7 370.0,72.7 371.6,73.8 373.2,72.7 379.8,72.7 375.6,77.7 379.8,82.7 373.2,82.7 371.6,81.6 370.0,82.7 363.4,82.7 367.6,77.7"/>
<polygon points="382.7,54.5 389.3,54.5 390.9,55.6 392.5,54.5 399.1,54.5 394.9,59.5 399.1,64.5 392.5,64.5 390.9,63.4 389.3,64.5 382.7,64.5 386.9,59.5"/>
<polygon points="397.3,42.0 403.9,42.0 405.5,43.1 407.1,42.0 413.7,42.0 409.5,47.0 413.7,52.0 407.1,52.0 405.5,50.9 403.9,52.0 397.3,52.0 401.5,47.0"/>
<polygon points="409.3,32.2 415.9,32.2 417.5,33.3 419.1,32.2 425.7,32.2 421.5,37.2 425.7,42.2 419.1,42.2 417.5,41.1 415.9,42.2 409.3,42.2 413.5,37.2"/>
<polygon points="425.8,22.8 432.4,22.8 434.0,23.9 435.6,22.8 442.2,22.8 438.0,27.8 442.2,32.8 435.6,32.8 434.0,31.7 432.4,32.8 425.8,32.8 430.0,27.8"/>
<polygon points="436.9,18.7 443.5,18.7 445.1,19.8 446.7,18.7 453.3,18.7 449.1,23.7 453.3,28.7 446.7,28.7 445.1,27.6 443.5,28.7 436.9,28.7 441.1,23.7"/>
<polygon points="447.6,16.5 454.2,16.5 455.8,17.6 457.4,16.5 464.0,16.5 459.8,21.5 464.0,26.5 457.4,26.5 455.8,25.4 454.2,26.5 447.6,26.5 451.8,21.5"/>
<polygon points="457.7,15.1 464.3,15.1 465.9,16.2 467.5,15.1 474.1,15.1 469.9,20.1 474.1,25.1 467.5,25.1 465.9,24.0 464.3,25.1 457.7,25.1 461.9,20.1"/>
<polygon points="467.2,16.4 473.8,16.4 475.4,17.5 477.0,16.4 483.6,16.4 479.4,21.4 483.6,26.4 477.0,26.4 475.4,25.3 473.8,26.4 467.2,26.4 471.4,21.4"/>
<polygon points="475.2,18.9 481.8,18.9 483.4,20.0 485.0,18.9 491.6,18.9 487.4,23.9 491.6,28.9 485.0,28.9 483.4,27.8 481.8,28.9 475.2,28.9 479.4,23.9"/>
<polygon points="482.3,22.2 488.9,22.2 490.5,23.3 492.1,22.2 498.7,22.2 494.5,27.2 498.7,32.2 492.1,32.2 490.5,31.1 488.9,32.2 482.3,32.2 486.5,27.2"/>
<polygon points="488.5,25.8 495.1,25.8 496.7,26.9 498.3,25.8 504.9,25.8 500.7,30.8 504.9,35.8 498.3,35.8 496.7,34.7 495.1,35.8 488.5,35.8 492.7,30.8"/>
<polygon points="494.6,30.8 501.2,30.8 502.8,31.9 504.4,30.8 511.0,30.8 506.8,35.8 511.0,40.8 504.4,40.8 502.8,39.7 501.2,40.8 494.6,40.8 498.8,35.8"/>
<polygon points="505.1,42.5 511.7,42.5 513.3,43.6 514.9,42.5 521.5,42.5 517.3,47.5 521.5,52.5 514.9,52.5 513.3,51.4 511.7,52.5 505.1,52.5 509.3,47.5"/>
<polygon points="514.4,56.3 521.0,56.3 522.6,57.4 524.2,56.3 530.8,56.3 526.6,61.3 530.8,66.3 524.2,66.3 522.6,65.2 521.0,66.3 514.4,66.3 518.6,61.3"/>
<polygon points="523.4,70.0 530.0,70.0 531.6,71.1 533.2,70.0 539.8,70.0 535.6,75.0 539.8,80.0 533.2,80.0 531.6,78.9 530.0,80.0 523.4,80.0 527.6,75.0"/>
<polygon points="531.8,86.4 538.4,86.4 540.0,87.5 541.6,86.4 548.2,86.4 544.0,91.4 548.2,96.4 541.6,96.4 540.0,95.3 538.4,96.4 531.8,96.4 536.0,91.4"/>
<polygon points="539.3,103.4 545.9,103.4 547.5,104.5 549.1,103.4 555.7,103.4 551.5,108.4 555.7,113.4 549.1,113.4 547.5,112.3 545.9,113.4 539.3,113.4 543.5,108.4"/>
<polygon points="546.8,120.2 553.4,120.2 555.0,121.3 556.6,120.2 563.2,120.2 559.0,125.2 563.2,130.2 556.6,130.2 555.0,129.1 553.4,130.2 546.8,130.2 551.0,125.2"/>
<polygon points="554.1,138.9 560.7,138.9 562.3,140.0 563.9,138.9 570.5,138.9 566.3,143.9 570.5,148.9 563.9,148.9 562.3,147.8 560.7,148.9 554.1,148.9 558.3,143.9"/>
<polygon points="559.3,157.3 565.9,157.3 567.5,158.4 569.1,157.3 575.7,157.3 571.5,162.3 575.7,167.3 569.1,167.3 567.5,166.2 565.9,167.3 559.3,167.3 563.5,162.3"/>
<polygon points="566.8,177.1 573.4,177.1 575.0,178.2 576.6,177.1 583.2,177.1 579.0,182.1 583.2,187.1 576.6,187.1 575.0,186.0 573.4,187.1 566.8,187.1 571.0,182.1"/>
<polygon points="211.1,244.0 217.7,244.0 219.3,245.1 220.9,244.0 227.5,244.0 223.3,249.0 227.5,254.0 220.9,254.0 219.3,252.9 217.7,254.0 211.1,254.0 215.3,249.0"/>
<polygon points="259.3,200.0 265.9,200.0 267.5,201.1 269.1,200.0 275.7,200.0 271.5,205.0 275.7,210.0 269.1,210.0 267.5,208.9 265.9,210.0 259.3,210.0 263.5,205.0"/>
<polygon points="305.6,157.9 312.2,157.9 313.8,159.0 315.4,157.9 322.0,157.9 317.8,162.9 322.0,167.9 315.4,167.9 313.8,166.8 312.2,167.9 305.6,167.9 309.8,162.9"/>
<polygon points="350.4,117.0 357.0,117.0 358.6,118.1 360.2,117.0 366.8,117.0 362.6,122.0 366.8,127.0 360.2,127.0 358.6,125.9 357.0,127.0 350.4,127.0 354.6,122.0"/>
<polygon points="387.1,85.9 393.7,85.9 395.3,87.0 396.9,85.9 403.5,85.9 399.3,90.9 403.5,95.9 396.9,95.9 395.3,94.8 393.7,95.9 387.1,95.9 391.3,90.9"/>
<polygon points="405.3,72.7 411.9,72.7 413.5,73.8 415.1,72.7 421.7,72.7 417.5,77.7 421.7,82.7 415.1,82.7 413.5,81.6 411.9,82.7 405.3,82.7 409.5,77.7"/>
<polygon points="423.8,62.2 430.4,62.2 432.0,63.3 433.6,62.2 440.2,62.2 436.0,67.2 440.2,72.2 433.6,72.2 432.0,71.1 430.4,72.2 423.8,72.2 428.0,67.2"/>
<polygon points="442.1,55.3 448.7,55.3 450.3,56.4 451.9,55.3 458.5,55.3 454.3,60.3 458.5,65.3 451.9,65.3 450.3,64.2 448.7,65.3 442.1,65.3 446.3,60.3"/>
<polygon points="454.6,53.3 461.2,53.3 462.8,54.4 464.4,53.3 471.0,53.3 466.8,58.3 471.0,63.3 464.4,63.3 462.8,62.2 461.2,63.3 454.6,63.3 458.8,58.3"/>
<polygon points="466.5,53.3 473.1,53.3 474.7,54.4 476.3,53.3 482.9,53.3 478.7,58.3 482.9,63.3 476.3,63.3 474.7,62.2 473.1,63.3 466.5,63.3 470.7,58.3"/>
<polygon points="475.1,55.9 481.7,55.9 483.3,57.0 484.9,55.9 491.5,55.9 487.3,60.9 491.5,65.9 484.9,65.9 483.3,64.8 481.7,65.9 475.1,65.9 479.3,60.9"/>
<polygon points="483.2,59.1 489.8,59.1 491.4,60.2 493.0,59.1 499.6,59.1 495.4,64.1 499.6,69.1 493.0,69.1 491.4,68.0 489.8,69.1 483.2,69.1 487.4,64.1"/>
<polygon points="490.5,63.6 497.1,63.6 498.7,64.7 500.3,63.6 506.9,63.6 502.7,68.6 506.9,73.6 500.3,73.6 498.7,72.5 497.1,73.6 490.5,73.6 494.7,68.6"/>
<polygon points="496.4,68.0 503.0,68.0 504.6,69.1 506.2,68.0 512.8,68.0 508.6,73.0 512.8,78.0 506.2,78.0 504.6,76.9 503.0,78.0 496.4,78.0 500.6,73.0"/>
<polygon points="517.6,93.9 524.2,93.9 525.8,95.0 527.4,93.9 534.0,93.9 529.8,98.9 534.0,103.9 527.4,103.9 525.8,102.8 524.2,103.9 517.6,103.9 521.8,98.9"/>
<polygon points="527.7,109.3 534.3,109.3 535.9,110.4 537.5,109.3 544.1,109.3 539.9,114.3 544.1,119.3 537.5,119.3 535.9,118.2 534.3,119.3 527.7,119.3 531.9,114.3"/>
<polygon points="535.9,125.9 542.5,125.9 544.1,127.0 545.7,125.9 552.3,125.9 548.1,130.9 552.3,135.9 545.7,135.9 544.1,134.8 542.5,135.9 535.9,135.9 540.1,130.9"/>
<polygon points="543.8,143.6 550.4,143.6 552.0,144.7 553.6,143.6 560.2,143.6 556.0,148.6 560.2,153.6 553.6,153.6 552.0,152.5 550.4,153.6 543.8,153.6 548.0,148.6"/>
<polygon points="550.6,162.5 557.2,162.5 558.8,163.6 560.4,162.5 567.0,162.5 562.8,167.5 567.0,172.5 560.4,172.5 558.8,171.4 557.2,172.5 550.6,172.5 554.8,167.5"/>
<polygon points="557.5,180.0 564.1,180.0 565.7,181.1 567.3,180.0 573.9,180.0 569.7,185.0 573.9,190.0 567.3,190.0 565.7,188.9 564.1,190.0 557.5,190.0 561.7,185.0"/>
<polygon points="249.8,242.0 256.4,242.0 258.0,243.1 259.6,242.0 266.2,242.0 262.0,247.0 266.2,252.0 259.6,252.0 258.0,250.9 256.4,252.0 249.8,252.0 254.0,247.0"/>
<polygon points="337.2,179.1 343.8,179.1 345.4,180.2 347.0,179.1 353.6,179.1 349.4,184.1 353.6,189.1 347.0,189.1 345.4,188.0 343.8,189.1 337.2,189.1 341.4,184.1"/>
<polygon points="380.1,147.3 386.7,147.3 388.3,148.4 389.9,147.3 396.5,147.3 392.3,152.3 396.5,157.3 389.9,157.3 388.3,156.2 386.7,157.3 380.1,157.3 384.3,152.3"/>
<polygon points="400.1,134.3 406.7,134.3 408.3,135.4 409.9,134.3 416.5,134.3 412.3,139.3 416.5,144.3 409.9,144.3 408.3,143.2 406.7,144.3 400.1,144.3 404.3,139.3"/>
<polygon points="413.3,125.6 419.9,125.6 421.5,126.7 423.1,125.6 429.7,125.6 425.5,130.6 429.7,135.6 423.1,135.6 421.5,134.5 419.9,135.6 413.3,135.6 417.5,130.6"/>
<polygon points="427.5,117.8 434.1,117.8 435.7,118.9 437.3,117.8 443.9,117.8 439.7,122.8 443.9,127.8 437.3,127.8 435.7,126.7 434.1,127.8 427.5,127.8 431.7,122.8"/>
<polygon points="437.2,113.3 443.8,113.3 445.4,114.4 447.0,113.3 453.6,113.3 449.4,118.3 453.6,123.3 447.0,123.3 445.4,122.2 443.8,123.3 437.2,123.3 441.4,118.3"/>
<polygon points="444.6,109.6 451.2,109.6 452.8,110.7 454.4,109.6 461.0,109.6 456.8,114.6 461.0,119.6 454.4,119.6 452.8,118.5 451.2,119.6 444.6,119.6 448.8,114.6"/>
<polygon points="452.8,107.1 459.4,107.1 461.0,108.2 462.6,107.1 469.2,107.1 465.0,112.1 469.2,117.1 462.6,117.1 461.0,116.0 459.4,117.1 452.8,117.1 457.0,112.1"/>
<polygon points="461.7,104.1 468.3,104.1 469.9,105.2 471.5,104.1 478.1,104.1 473.9,109.1 478.1,114.1 471.5,114.1 469.9,113.0 468.3,114.1 461.7,114.1 465.9,109.1"/>
<polygon points="469.1,104.1 475.7,104.1 477.3,105.2 478.9,104.1 485.5,104.1 481.3,109.1 485.5,114.1 478.9,114.1 477.3,113.0 475.7,114.1 469.1,114.1 473.3,109.1"/>
<polygon points="484.0,105.9 490.6,105.9 492.2,107.0 493.8,105.9 500.4,105.9 496.2,110.9 500.4,115.9 493.8,115.9 492.2,114.8 490.6,115.9 484.0,115.9 488.2,110.9"/>
<polygon points="495.2,108.3 501.8,108.3 503.4,109.4 505.0,108.3 511.6,108.3 507.4,113.3 511.6,118.3 505.0,118.3 503.4,117.2 501.8,118.3 495.2,118.3 499.4,113.3"/>
<polygon points="510.8,119.5 517.4,119.5 519.0,120.6 520.6,119.5 527.2,119.5 523.0,124.5 527.2,129.5 520.6,129.5 519.0,128.4 517.4,129.5 510.8,129.5 515.0,124.5"/>
<polygon points="522.7,133.0 529.3,133.0 530.9,134.1 532.5,133.0 539.1,133.0 534.9,138.0 539.1,143.0 532.5,143.0 530.9,141.9 529.3,143.0 522.7,143.0 526.9,138.0"/>
<polygon points="533.6,148.2 540.2,148.2 541.8,149.3 543.4,148.2 550.0,148.2 545.8,153.2 550.0,158.2 543.4,158.2 541.8,157.1 540.2,158.2 533.6,158.2 537.8,153.2"/>
<polygon points="542.7,164.0 549.3,164.0 550.9,165.1 552.5,164.0 559.1,164.0 554.9,169.0 559.1,174.0 552.5,174.0 550.9,172.9 549.3,174.0 542.7,174.0 546.9,169.0"/>
<polygon points="550.3,177.9 556.9,177.9 558.5,179.0 560.1,177.9 566.7,177.9 562.5,182.9 566.7,187.9 560.1,187.9 558.5,186.8 556.9,187.9 550.3,187.9 554.5,182.9"/>
<polygon points="557.3,192.1 563.9,192.1 565.5,193.2 567.1,192.1 573.7,192.1 569.5,197.1 573.7,202.1 567.1,202.1 565.5,201.0 563.9,202.1 557.3,202.1 561.5,197.1"/>
<polygon points="224.3,295.0 230.9,295.0 232.5,296.1 234.1,295.0 240.7,295.0 236.5,300.0 240.7,305.0 234.1,305.0 232.5,303.9 230.9,305.0 224.3,305.0 228.5,300.0"/>
<polygon points="381.8,210.9 388.4,210.9 390.0,212.0 391.6,210.9 398.2,210.9 394.0,215.9 398.2,220.9 391.6,220.9 390.0,219.8 388.4,220.9 381.8,220.9 386.0,215.9"/>
<polygon points="416.8,192.4 423.4,192.4 425.0,193.5 426.6,192.4 433.2,192.4 429.0,197.4 433.2,202.4 426.6,202.4 425.0,201.3 423.4,202.4 416.8,202.4 421.0,197.4"/>
<polygon points="440.0,180.5 446.6,180.5 448.2,181.6 449.8,180.5 456.4,180.5 452.2,185.5 456.4,190.5 449.8,190.5 448.2,189.4 446.6,190.5 440.0,190.5 444.2,185.5"/>
<polygon points="459.1,172.3 465.7,172.3 467.3,173.4 468.9,172.3 475.5,172.3 471.3,177.3 475.5,182.3 468.9,182.3 467.3,181.2 465.7,182.3 459.1,182.3 463.3,177.3"/>
<polygon points="470.0,168.2 476.6,168.2 478.2,169.3 479.8,168.2 486.4,168.2 482.2,173.2 486.4,178.2 479.8,178.2 478.2,177.1 476.6,178.2 470.0,178.2 474.2,173.2"/>
<polygon points="478.2,166.0 484.8,166.0 486.4,167.1 488.0,166.0 494.6,166.0 490.4,171.0 494.6,176.0 488.0,176.0 486.4,174.9 484.8,176.0 478.2,176.0 482.4,171.0"/>
<polygon points="485.0,164.6 491.6,164.6 493.2,165.7 494.8,164.6 501.4,164.6 497.2,169.6 501.4,174.6 494.8,174.6 493.2,173.5 491.6,174.6 485.0,174.6 489.2,169.6"/>
<polygon points="491.8,163.3 498.4,163.3 500.0,164.4 501.6,163.3 508.2,163.3 504.0,168.3 508.2,173.3 501.6,173.3 500.0,172.2 498.4,173.3 491.8,173.3 496.0,168.3"/>
<polygon points="498.6,162.5 505.2,162.5 506.8,163.6 508.4,162.5 515.0,162.5 510.8,167.5 515.0,172.5 508.4,172.5 506.8,171.4 505.2,172.5 498.6,172.5 502.8,167.5"/>
<polygon points="505.4,162.5 512.0,162.5 513.6,163.6 515.2,162.5 521.8,162.5 517.6,167.5 521.8,172.5 515.2,172.5 513.6,171.4 512.0,172.5 505.4,172.5 509.6,167.5"/>
<polygon points="520.4,165.5 527.0,165.5 528.6,166.6 530.2,165.5 536.8,165.5 532.6,170.5 536.8,175.5 530.2,175.5 528.6,174.4 527.0,175.5 520.4,175.5 524.6,170.5"/>
<polygon points="530.2,169.1 536.8,169.1 538.4,170.2 540.0,169.1 546.6,169.1 542.4,174.1 546.6,179.1 540.0,179.1 538.4,178.0 536.8,179.1 530.2,179.1 534.4,174.1"/>
<polygon points="542.1,179.9 548.7,179.9 550.3,181.0 551.9,179.9 558.5,179.9 554.3,184.9 558.5,189.9 551.9,189.9 550.3,188.8 548.7,189.9 542.1,189.9 546.3,184.9"/>
<polygon points="551.2,184.8 557.8,184.8 559.4,185.9 561.0,184.8 567.6,184.8 563.4,189.8 567.6,194.8 561.0,194.8 559.4,193.7 557.8,194.8 551.2,194.8 555.4,189.8"/>
<polygon points="511.0,78.6 511.0,85.2 512.1,86.8 511.0,88.4 511.0,95.0 516.0,90.8 521.0,95.0 521.0,88.4 519.9,86.8 521.0,85.2 521.0,78.6 516.0,82.8"/>
<polygon points="573.2,199.1 579.8,199.1 581.4,200.2 583.0,199.1 589.6,199.1 585.4,204.1 589.6,209.1 583.0,209.1 581.4,208.0 579.8,209.1 573.2,209.1 577.4,204.1"/>
<polygon points="578.9,220.1 585.5,220.1 587.1,221.2 588.7,220.1 595.3,220.1 591.1,225.1 595.3,230.1 588.7,230.1 587.1,229.0 585.5,230.1 578.9,230.1 583.1,225.1"/>
<polygon points="586.0,243.0 592.6,243.0 594.2,244.1 595.8,243.0 602.4,243.0 598.2,248.0 602.4,253.0 595.8,253.0 594.2,251.9 592.6,253.0 586.0,253.0 590.2,248.0"/>
<polygon points="594.6,264.8 601.2,264.8 602.8,265.9 604.4,264.8 611.0,264.8 606.8,269.8 611.0,274.8 604.4,274.8 602.8,273.7 601.2,274.8 594.6,274.8 598.8,269.8"/>
<polygon points="602.4,287.5 609.0,287.5 610.6,288.6 612.2,287.5 618.8,287.5 614.6,292.5 618.8,297.5 612.2,297.5 610.6,296.4 609.0,297.5 602.4,297.5 606.6,292.5"/>
<polygon points="610.4,310.7 617.0,310.7 618.6,311.8 620.2,310.7 626.8,310.7 622.6,315.7 626.8,320.7 620.2,320.7 618.6,319.6 617.0,320.7 610.4,320.7 614.6,315.7"/>
<polygon points="618.6,334.8 625.2,334.8 626.8,335.9 628.4,334.8 635.0,334.8 630.8,339.8 635.0,344.8 628.4,344.8 626.8,343.7 625.2,344.8 618.6,344.8 622.8,339.8"/>
<polygon points="625.8,359.3 632.4,359.3 634.0,360.4 635.6,359.3 642.2,359.3 638.0,364.3 642.2,369.3 635.6,369.3 634.0,368.2 632.4,369.3 625.8,369.3 630.0,364.3"/>
<polygon points="632.1,384.4 638.7,384.4 640.3,385.5 641.9,384.4 648.5,384.4 644.3,389.4 648.5,394.4 641.9,394.4 640.3,393.3 638.7,394.4 632.1,394.4 636.3,389.4"/>
<polygon points="567.9,203.0 574.5,203.0 576.1,204.1 577.7,203.0 584.3,203.0 580.1,208.0 584.3,213.0 577.7,213.0 576.1,211.9 574.5,213.0 567.9,213.0 572.1,208.0"/>
<polygon points="562.4,203.0 569.0,203.0 570.6,204.1 572.2,203.0 578.8,203.0 574.6,208.0 578.8,213.0 572.2,213.0 570.6,211.9 569.0,213.0 562.4,213.0 566.6,208.0"/>
<polygon points="574.6,222.4 581.2,222.4 582.8,223.5 584.4,222.4 591.0,222.4 586.8,227.4 591.0,232.4 584.4,232.4 582.8,231.3 581.2,232.4 574.6,232.4 578.8,227.4"/>
<polygon points="570.6,222.4 577.2,222.4 578.8,223.5 580.4,222.4 587.0,222.4 582.8,227.4 587.0,232.4 580.4,232.4 578.8,231.3 577.2,232.4 570.6,232.4 574.8,227.4"/>
<polygon points="581.3,243.0 587.9,243.0 589.5,244.1 591.1,243.0 597.7,243.0 593.5,248.0 597.7,253.0 591.1,253.0 589.5,251.9 587.9,253.0 581.3,253.0 585.5,248.0"/>
<polygon points="577.0,243.0 583.6,243.0 585.2,244.1 586.8,243.0 593.4,243.0 589.2,248.0 593.4,253.0 586.8,253.0 585.2,251.9 583.6,253.0 577.0,253.0 581.2,248.0"/>
<polygon points="588.0,264.8 594.6,264.8 596.2,265.9 597.8,264.8 604.4,264.8 600.2,269.8 604.4,274.8 597.8,274.8 596.2,273.7 594.6,274.8 588.0,274.8 592.2,269.8"/>
<polygon points="584.4,264.8 591.0,264.8 592.6,265.9 594.2,264.8 600.8,264.8 596.6,269.8 600.8,274.8 594.2,274.8 592.6,273.7 591.0,274.8 584.4,274.8 588.6,269.8"/>
<polygon points="594.6,287.5 601.2,287.5 602.8,288.6 604.4,287.5 611.0,287.5 606.8,292.5 611.0,297.5 604.4,297.5 602.8,296.4 601.2,297.5 594.6,297.5 598.8,292.5"/>
<polygon points="591.7,287.5 598.3,287.5 599.9,288.6 601.5,287.5 608.1,287.5 603.9,292.5 608.1,297.5 601.5,297.5 599.9,296.4 598.3,297.5 591.7,297.5 595.9,292.5"/>
<polygon points="601.1,310.7 607.7,310.7 609.3,311.8 610.9,310.7 617.5,310.7 613.3,315.7 617.5,320.7 610.9,320.7 609.3,319.6 607.7,320.7 601.1,320.7 605.3,315.7"/>
<polygon points="598.7,310.7 605.3,310.7 606.9,311.8 608.5,310.7 615.1,310.7 610.9,315.7 615.1,320.7 608.5,320.7 606.9,319.6 605.3,320.7 598.7,320.7 602.9,315.7"/>
<polygon points="607.6,334.8 614.2,334.8 615.8,335.9 617.4,334.8 624.0,334.8 619.8,339.8 624.0,344.8 617.4,344.8 615.8,343.7 614.2,344.8 607.6,344.8 611.8,339.8"/>
<polygon points="605.5,334.8 612.1,334.8 613.7,335.9 615.3,334.8 621.9,334.8 617.7,339.8 621.9,344.8 615.3,344.8 613.7,343.7 612.1,344.8 605.5,344.8 609.7,339.8"/>
<polygon points="613.8,359.3 620.4,359.3 622.0,360.4 623.6,359.3 630.2,359.3 626.0,364.3 630.2,369.3 623.6,369.3 622.0,368.2 620.4,369.3 613.8,369.3 618.0,364.3"/>
<polygon points="611.0,359.3 617.6,359.3 619.2,360.4 620.8,359.3 627.4,359.3 623.2,364.3 627.4,369.3 620.8,369.3 619.2,368.2 617.6,369.3 611.0,369.3 615.2,364.3"/>
<polygon points="616.8,384.5 623.4,384.5 625.0,385.6 626.6,384.5 633.2,384.5 629.0,389.5 633.2,394.5 626.6,394.5 625.0,393.4 623.4,394.5 616.8,394.5 621.0,389.5"/>
<polygon points="618.5,384.5 625.1,384.5 626.7,385.6 628.3,384.5 634.9,384.5 630.7,389.5 634.9,394.5 628.3,394.5 626.7,393.4 625.1,394.5 618.5,394.5 622.7,389.5"/>
<polygon points="560.1,203.0 566.7,203.0 568.3,204.1 569.9,203.0 576.5,203.0 572.3,208.0 576.5,213.0 569.9,213.0 568.3,211.9 566.7,213.0 560.1,213.0 564.3,208.0"/>
<polygon points="569.8,222.4 576.4,222.4 578.0,223.5 579.6,222.4 586.2,222.4 582.0,227.4 586.2,232.4 579.6,232.4 578.0,231.3 576.4,232.4 569.8,232.4 574.0,227.4"/>
<polygon points="578.1,243.0 584.7,243.0 586.3,244.1 587.9,243.0 594.5,243.0 590.3,248.0 594.5,253.0 587.9,253.0 586.3,251.9 584.7,253.0 578.1,253.0 582.3,248.0"/>
<polygon points="585.5,264.8 592.1,264.8 593.7,265.9 595.3,264.8 601.9,264.8 597.7,269.8 601.9,274.8 595.3,274.8 593.7,273.7 592.1,274.8 585.5,274.8 589.7,269.8"/>
<polygon points="592.2,287.5 598.8,287.5 600.4,288.6 602.0,287.5 608.6,287.5 604.4,292.5 608.6,297.5 602.0,297.5 600.4,296.4 598.8,297.5 592.2,297.5 596.4,292.5"/>
<polygon points="598.4,310.7 605.0,310.7 606.6,311.8 608.2,310.7 614.8,310.7 610.6,315.7 614.8,320.7 608.2,320.7 606.6,319.6 605.0,320.7 598.4,320.7 602.6,315.7"/>
<polygon points="604.3,334.8 610.9,334.8 612.5,335.9 614.1,334.8 620.7,334.8 616.5,339.8 620.7,344.8 614.1,344.8 612.5,343.7 610.9,344.8 604.3,344.8 608.5,339.8"/>
<polygon points="609.9,359.3 616.5,359.3 618.1,360.4 619.7,359.3 626.3,359.3 622.1,364.3 626.3,369.3 619.7,369.3 618.1,368.2 616.5,369.3 609.9,369.3 614.1,364.3"/>
<polygon points="56.8,384.5 63.4,384.5 65.0,385.6 66.6,384.5 73.2,384.5 69.0,389.5 73.2,394.5 66.6,394.5 65.0,393.4 63.4,394.5 56.8,394.5 61.0,389.5"/>
</g>
<rect x="64.7" y="0" width="225.4" height="72.8" fill="#fff"/>
<path d="M64.7 1.7V72.8H290.1V1.7" fill="none" stroke="#454545" stroke-width="1.2"/>
<path d="M87.2 13H123" stroke="#ff0000" stroke-width="3.6"/>
<polygon points="96.2,45.9 102.8,45.9 104.4,47.0 106.0,45.9 112.6,45.9 108.4,50.9 112.6,55.9 106.0,55.9 104.4,54.8 102.8,55.9 96.2,55.9 100.4,50.9" fill="#0a3cff"/>
<text class="lg" transform="translate(125.60,19.90) scale(1.020,1)" text-anchor="start">Estimated curve</text>
<text class="lg" transform="translate(125.60,56.50) scale(1.020,1)" text-anchor="start">Experiment curve</text>
<text class="an" transform="translate(67.50,99.50) scale(1.005,1)" text-anchor="start">2040 W/m<tspan dy="-7.5" dx="0.8" font-size="12">2</tspan><tspan dy="7.5" dx="0.3"> -59°C</tspan></text>
<path d="M73.9 105.3H203.6V111.9H325.7" stroke="#0a0a0a" stroke-width="1.75" fill="none"/>
<polygon points="333.7,111.9 324.0,106.8 324.0,117.0" fill="#000"/>
<text class="an" transform="translate(67.50,146.50) scale(1.005,1)" text-anchor="start">924 W/m<tspan dy="-7.5" dx="0.8" font-size="12">2</tspan><tspan dy="7.5" dx="0.3"> -68°C</tspan></text>
<path d="M73.9 150.4H200.2V156.5H320.2" stroke="#0a0a0a" stroke-width="1.75" fill="none"/>
<polygon points="328.2,156.5 318.5,151.4 318.5,161.6" fill="#000"/>
<text class="an" transform="translate(73.00,200.70) scale(1.005,1)" text-anchor="start">743W/m<tspan dy="-7.5" dx="0.8" font-size="12">2</tspan><tspan dy="7.5" dx="0.3"> -67°C</tspan></text>
<path d="M73.8 204.6H187.2V212.2H293.3" stroke="#0a0a0a" stroke-width="1.75" fill="none"/>
<polygon points="301.3,212.2 291.6,207.1 291.6,217.3" fill="#000"/>
<text class="an" transform="translate(67.50,266.70) scale(1.005,1)" text-anchor="start">544W/m<tspan dy="-7.5" dx="0.8" font-size="12">2</tspan><tspan dy="7.5" dx="0.3"> -53°C</tspan></text>
<path d="M66.2 268.0H172.0V274.2H270.3" stroke="#0a0a0a" stroke-width="1.75" fill="none"/>
<polygon points="278.3,274.2 268.6,269.1 268.6,279.3" fill="#000"/>
<text class="tk" transform="translate(65.20,415.60) scale(1.050,1)" text-anchor="middle">0</text>
<text class="tk" transform="translate(150.17,415.60) scale(1.050,1)" text-anchor="middle">5</text>
<text class="tk" transform="translate(235.14,415.60) scale(1.050,1)" text-anchor="middle">10</text>
<text class="tk" transform="translate(320.11,415.60) scale(1.050,1)" text-anchor="middle">15</text>
<text class="tk" transform="translate(405.09,415.60) scale(1.050,1)" text-anchor="middle">20</text>
<text class="tk" transform="translate(490.06,415.60) scale(1.050,1)" text-anchor="middle">25</text>
<text class="tk" transform="translate(575.03,415.60) scale(1.050,1)" text-anchor="middle">30</text>
<text class="tk" transform="translate(660.00,415.60) scale(1.050,1)" text-anchor="middle">35</text>
<text class="tk" transform="translate(58.00,396.70) scale(1.050,1)" text-anchor="end">0</text>
<text class="tk" transform="translate(58.00,301.42) scale(1.050,1)" text-anchor="end">50</text>
<text class="tk" transform="translate(58.00,206.15) scale(1.050,1)" text-anchor="end">100</text>
<text class="tk" transform="translate(58.00,110.87) scale(1.050,1)" text-anchor="end">150</text>
<text class="tk" transform="translate(58.00,15.60) scale(1.050,1)" text-anchor="end">200</text>
<text class="lb" transform="translate(362.20,432.60) scale(1.087,1)" text-anchor="middle">Voltage (V)</text>
<text class="lb" transform="translate(16.4,198) rotate(-90) scale(1.083,1)" text-anchor="middle">Power (W)</text>
</svg></body></html>
